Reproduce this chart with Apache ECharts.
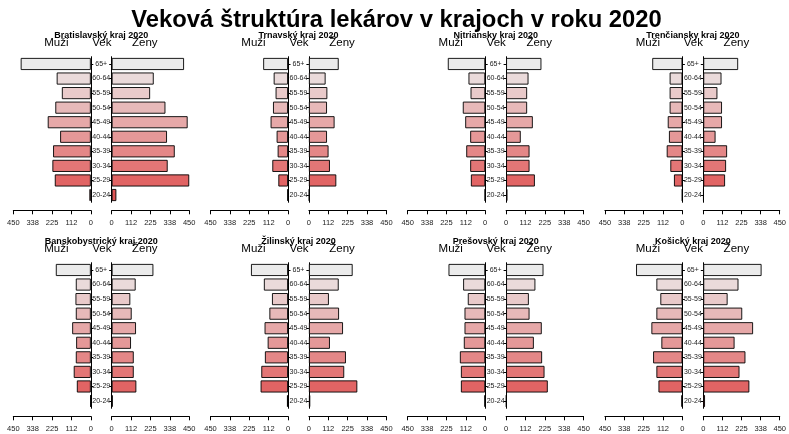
<!DOCTYPE html>
<html>
<head>
<meta charset="utf-8">
<script src="https://cdn.jsdelivr.net/npm/echarts@6/dist/echarts.min.js"></script>
<style>html,body{margin:0;padding:0;background:#fff}#c{width:789px;height:434px}</style>
</head>
<body>
<div id="c"></div>
<script>
// ---- DATA ----
const mainTitle = 'Veková štruktúra lekárov v krajoch v roku 2020';
const ages = ['65+', '60-64', '55-59', '50-54', '45-49', '40-44', '35-39', '30-34', '25-29', '20-24'];
const tickLabels = ['0', '112', '225', '338', '450'];
const regions = ['Bratislavský kraj 2020', 'Trnavský kraj 2020', 'Nitriansky kraj 2020', 'Trenčiansky kraj 2020',
                 'Banskobystrický kraj 2020', 'Žilinský kraj 2020', 'Prešovský kraj 2020', 'Košický kraj 2020'];
const bratislavaMuzi = [407, 198, 168, 206, 250, 178, 219, 223, 209, 8];
const bratislavaZeny = [420, 244, 223, 312, 441, 321, 366, 325, 450, 27];
const trnavaMuzi = [144, 83, 72, 87, 101, 66, 60, 91, 56, 3];
const trnavaZeny = [173, 97, 107, 105, 149, 105, 114, 122, 159, 3];
const nitraMuzi = [217, 97, 85, 130, 116, 87, 110, 87, 83, 2];
const nitraZeny = [205, 130, 122, 122, 155, 85, 136, 136, 167, 8];
const trencinMuzi = [175, 74, 74, 74, 85, 78, 91, 70, 49, 2];
const trencinZeny = [205, 107, 83, 110, 110, 72, 140, 134, 128, 2];
const bystricaMuzi = [203, 87, 89, 87, 108, 85, 87, 99, 81, 2];
const bystricaZeny = [242, 139, 108, 116, 141, 112, 128, 128, 143, 6];
const zilinaMuzi = [215, 140, 93, 108, 136, 118, 134, 155, 159, 6];
const zilinaZeny = [254, 173, 116, 175, 198, 122, 215, 205, 281, 8];
const presovMuzi = [213, 128, 101, 120, 120, 124, 147, 141, 141, 4];
const presovZeny = [217, 170, 132, 136, 207, 161, 209, 223, 242, 2];
const kosiceMuzi = [269, 151, 128, 151, 180, 122, 170, 151, 139, 6];
const kosiceZeny = [343, 207, 143, 229, 293, 184, 248, 213, 271, 10];

const muzi = [bratislavaMuzi, trnavaMuzi, nitraMuzi, trencinMuzi, bystricaMuzi, zilinaMuzi, presovMuzi, kosiceMuzi];
const zeny = [bratislavaZeny, trnavaZeny, nitraZeny, trencinZeny, bystricaZeny, zilinaZeny, presovZeny, kosiceZeny];

// ---- STYLE ----
const palette = ['#ebebeb', '#eadada', '#e9caca', '#e7b9b9', '#e6a8a8', '#e59898', '#e48787', '#e37676', '#e16464', '#e05555'];
const FONT = '"Liberation Sans", Arial, sans-serif';
const colX0 = 13.3, colStep = 197.2, gridW = 77.5, gap = 20.9;
const rowTop = [56.7, 262.7], gridH = 145.6;

const grids = [], xAxes = [], yAxes = [], series = [], graphics = [];

graphics.push({type: 'text', x: 396.5, y: 20.5, scaleX: 1.19, scaleY: 1.15,
  style: {text: mainTitle, x: 0, y: 0, textAlign: 'center', align: 'center',
  textVerticalAlign: 'middle', verticalAlign: 'middle', font: 'bold 20px ' + FONT, fill: '#000'}});

function txt(t, x, y, font) {
  graphics.push({type: 'text', style: {text: t, x: x, y: y, textAlign: 'center', align: 'center',
    textVerticalAlign: 'middle', verticalAlign: 'middle', font: font, fill: '#000'}});
}

regions.forEach((name, i) => {
  const col = i % 4, row = Math.floor(i / 4);
  const lx = colX0 + colStep * col;
  const rx = lx + gridW + gap;
  const top = rowTop[row];
  const gl = grids.length;
  grids.push({left: lx, top: top, width: gridW, height: gridH});
  grids.push({left: rx, top: top, width: gridW, height: gridH});

  const xa = (inverse) => ({
    type: 'value', min: 0, max: 450, interval: 112.5, inverse: inverse, offset: 8,
    splitLine: {show: false},
    axisLine: {show: true, lineStyle: {color: '#000', width: 1}},
    axisTick: {show: true, length: 4, lineStyle: {color: '#000'}},
    axisLabel: {show: true, fontSize: 7.5, fontFamily: FONT, color: '#222', margin: 9,
      formatter: (v) => tickLabels[Math.round(v / 112.5)]}
  });
  xAxes.push(Object.assign(xa(true), {gridIndex: gl}));
  xAxes.push(Object.assign(xa(false), {gridIndex: gl + 1}));

  yAxes.push({type: 'category', gridIndex: gl, data: ages, inverse: true, position: 'right',
    axisLine: {show: true, lineStyle: {color: '#000', width: 1}},
    axisTick: {show: true, length: 2.5, alignWithLabel: true, lineStyle: {color: '#000'}},
    axisLabel: {show: false}});
  yAxes.push({type: 'category', gridIndex: gl + 1, data: ages, inverse: true, position: 'left',
    axisLine: {show: true, lineStyle: {color: '#000', width: 1}},
    axisTick: {show: true, length: 2.5, alignWithLabel: true, lineStyle: {color: '#000'}},
    axisLabel: {show: true, fontSize: 7, fontFamily: FONT, color: '#222', align: 'center', margin: gap / 2}});

  const barStyle = {color: (p) => palette[p.dataIndex], borderColor: '#000', borderWidth: 0.9};
  series.push({type: 'bar', xAxisIndex: gl, yAxisIndex: gl, data: muzi[i], barCategoryGap: '17%',
    itemStyle: barStyle, silent: true, animation: false});
  series.push({type: 'bar', xAxisIndex: gl + 1, yAxisIndex: gl + 1, data: zeny[i], barCategoryGap: '17%',
    itemStyle: barStyle, silent: true, animation: false});

  const ty = top - 20.7, hy = top - 13.7;
  txt('Muži', lx + 43, hy, '11.5px ' + FONT);
  txt('Vek', lx + 88.5, hy, '11.5px ' + FONT);
  txt('Ženy', lx + 131.5, hy, '11.5px ' + FONT);
  txt(name, lx + 88, ty, 'bold 9px ' + FONT);
});

const chart = echarts.init(document.getElementById('c'), null, {renderer: 'canvas'});
chart.setOption({
  backgroundColor: '#fff',
  animation: false,
  grid: grids, xAxis: xAxes, yAxis: yAxes, series: series,
  graphic: graphics
});
</script>
</body>
</html>
